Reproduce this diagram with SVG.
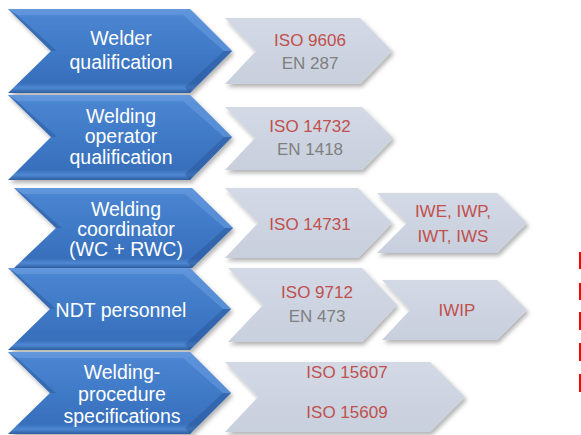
<svg xmlns="http://www.w3.org/2000/svg" width="581" height="435" viewBox="0 0 581 435">
  <defs>
    <linearGradient id="blueFill" x1="0" y1="0" x2="0" y2="1">
      <stop offset="0" stop-color="#5d93da"/>
      <stop offset="0.1" stop-color="#4a84d0"/>
      <stop offset="0.5" stop-color="#3f7ac7"/>
      <stop offset="0.88" stop-color="#376fbc"/>
      <stop offset="0.94" stop-color="#4f88d2"/>
      <stop offset="1" stop-color="#2d5d9f"/>
    </linearGradient>
    <linearGradient id="grayFill" x1="0" y1="0" x2="0" y2="1">
      <stop offset="0" stop-color="#d3d9e5"/>
      <stop offset="1" stop-color="#c8cfdd"/>
    </linearGradient>
    <filter id="shadow" x="-10%" y="-10%" width="125%" height="135%">
      <feDropShadow dx="2" dy="3" stdDeviation="2" flood-color="#000" flood-opacity="0.3"/>
    </filter>
  </defs>
  <style>
    .blue { fill: url(#blueFill); filter: url(#shadow); }
    .bevel-hi { fill: #6a9de0; opacity: 0.55; }
    .bevel-lo { fill: #2a5594; opacity: 0.45; }
    .lbl { font-family: "Liberation Sans", Arial, sans-serif; font-size: 19.5px; fill: #ffffff; text-anchor: middle; }
    .gray { fill: url(#grayFill); filter: url(#shadow); }
    .iso { font-family: "Liberation Sans", Arial, sans-serif; font-size: 17px; fill: #c0504d; text-anchor: middle; }
    .en { font-family: "Liberation Sans", Arial, sans-serif; font-size: 17px; fill: #7f7f7f; text-anchor: middle; }
    .mark { fill: #ff0000; }
  </style>

  <!-- blue category chevrons: body, top/left bevel, right-hand bevel facets -->
  <g id="welder">
    <polygon class="blue" points="8,9 190,9 232,51 190,93 8,93 51,51"/>
    <polygon class="bevel-hi" points="8,9 190,9 183,15 17,15"/>
    <polygon class="bevel-lo" points="8,9 17,15 57,51 51,51"/>
    <polygon class="bevel-hi" points="190,9 232,51 224,51 183,15"/>
    <polygon class="bevel-lo" points="232,51 190,93 185,87 224,51"/>
    <text class="lbl" x="121" y="45">Welder</text>
    <text class="lbl" x="121" y="69">qualification</text>
  </g>
  <g id="operator">
    <polygon class="blue" points="8,95 190,95 232,137 190,180 8,180 51,137"/>
    <polygon class="bevel-hi" points="8,95 190,95 183,101 17,101"/>
    <polygon class="bevel-lo" points="8,95 17,101 57,137 51,137"/>
    <polygon class="bevel-hi" points="190,95 232,137 224,137 183,101"/>
    <polygon class="bevel-lo" points="232,137 190,180 185,174 224,137"/>
    <text class="lbl" x="121" y="123">Welding</text>
    <text class="lbl" x="121" y="143">operator</text>
    <text class="lbl" x="121" y="164">qualification</text>
  </g>
  <g id="coordinator">
    <polygon class="blue" points="14,188 192,188 233,228 192,268 14,268 56,228"/>
    <polygon class="bevel-hi" points="14,188 192,188 185,194 23,194"/>
    <polygon class="bevel-lo" points="14,188 23,194 62,228 56,228"/>
    <polygon class="bevel-hi" points="192,188 233,228 225,228 185,194"/>
    <polygon class="bevel-lo" points="233,228 192,268 187,262 225,228"/>
    <text class="lbl" x="126" y="216">Welding</text>
    <text class="lbl" x="126" y="236">coordinator</text>
    <text class="lbl" x="126" y="256">(WC + RWC)</text>
  </g>
  <g id="ndt">
    <polygon class="blue" points="8,268 190,268 231,309 190,350 8,350 50,309"/>
    <polygon class="bevel-hi" points="8,268 190,268 183,274 17,274"/>
    <polygon class="bevel-lo" points="8,268 17,274 56,309 50,309"/>
    <polygon class="bevel-hi" points="190,268 231,309 223,309 183,274"/>
    <polygon class="bevel-lo" points="231,309 190,350 185,344 223,309"/>
    <text class="lbl" x="121" y="317">NDT personnel</text>
  </g>
  <g id="wps">
    <polygon class="blue" points="8,352 190,352 231,393 190,434 8,434 50,393"/>
    <polygon class="bevel-hi" points="8,352 190,352 183,358 17,358"/>
    <polygon class="bevel-lo" points="8,352 17,358 56,393 50,393"/>
    <polygon class="bevel-hi" points="190,352 231,393 223,393 183,358"/>
    <polygon class="bevel-lo" points="231,393 190,434 185,428 223,393"/>
    <text class="lbl" x="122" y="379">Welding-</text>
    <text class="lbl" x="122" y="401">procedure</text>
    <text class="lbl" x="122" y="423">specifications</text>
  </g>

  <!-- standards chevrons -->
  <g id="iso9606">
    <polygon class="gray" points="225,18 360,18 392,51 360,84 225,84 256,51"/>
    <text class="iso" x="310" y="46">ISO 9606</text>
    <text class="en" x="310" y="69">EN 287</text>
  </g>
  <g id="iso14732">
    <polygon class="gray" points="225,107 362,107 393,138 362,170 225,170 255,138"/>
    <text class="iso" x="310" y="132">ISO 14732</text>
    <text class="en" x="310" y="155">EN 1418</text>
  </g>
  <g id="iso14731">
    <polygon class="gray" points="225,188 358,188 392,223 358,258 225,258 258,223"/>
    <text class="iso" x="310" y="230">ISO 14731</text>
  </g>
  <g id="iwe">
    <polygon class="gray" points="377,193 497,193 527,223 497,253 377,253 407,223"/>
    <text class="iso" x="453" y="217">IWE, IWP,</text>
    <text class="iso" x="453" y="242">IWT, IWS</text>
  </g>
  <g id="iso9712">
    <polygon class="gray" points="228,268 362,268 397,305 362,342 228,342 263,305"/>
    <text class="iso" x="317" y="298">ISO 9712</text>
    <text class="en" x="317" y="322">EN 473</text>
  </g>
  <g id="iwip">
    <polygon class="gray" points="382,280 497,280 527,310 497,340 382,340 410,310"/>
    <text class="iso" x="457" y="316">IWIP</text>
  </g>
  <g id="iso15607">
    <polygon class="gray" points="225,362 430,362 465,397 430,432 225,432 258,397"/>
    <text class="iso" x="347" y="378">ISO 15607</text>
    <text class="iso" x="347" y="418">ISO 15609</text>
  </g>

  <!-- red edge marks at right border -->
  <rect class="mark" x="579" y="252" width="2" height="17"/>
  <rect class="mark" x="579" y="283" width="2" height="17"/>
  <rect class="mark" x="579" y="312" width="2" height="18"/>
  <rect class="mark" x="579" y="343" width="2" height="18"/>
  <rect class="mark" x="579" y="374" width="2" height="18"/>
</svg>
